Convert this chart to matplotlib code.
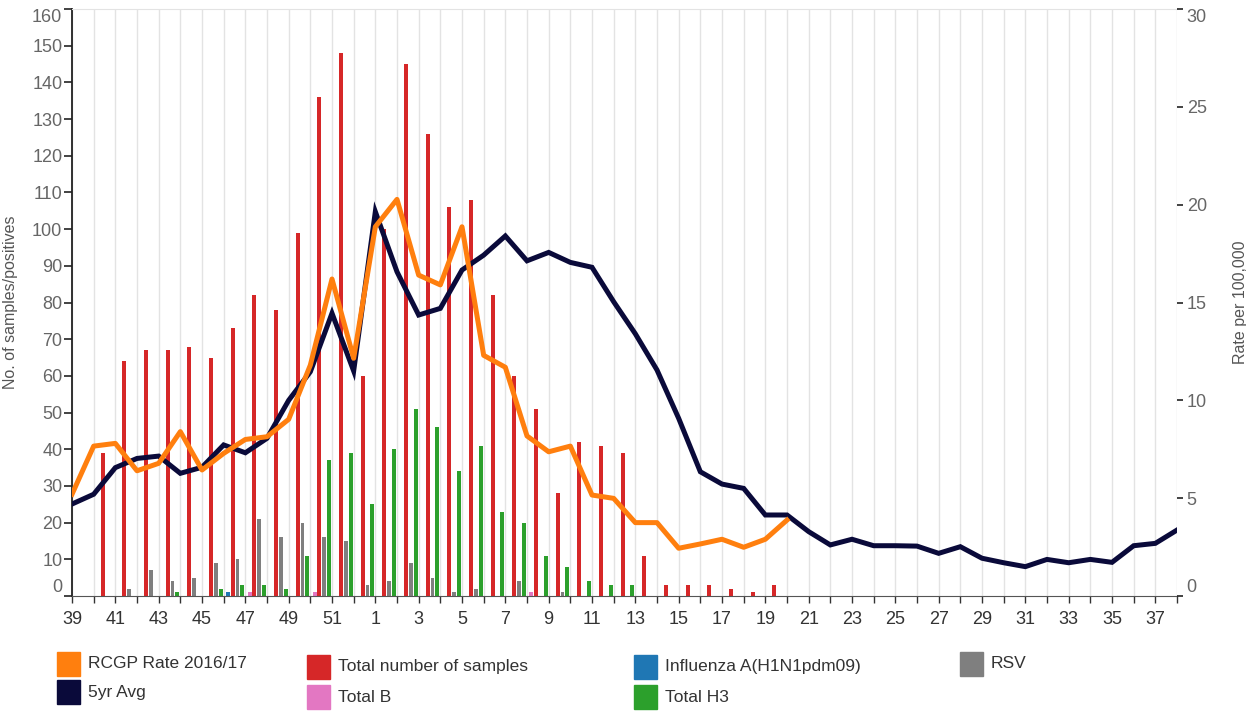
import matplotlib.pyplot as plt
import numpy as np
from matplotlib import font_manager
from matplotlib.patches import Rectangle

# flu surveillance chart: weekly samples (bars, left axis) and rates (lines, right axis)

weeks = list(range(39, 53)) + list(range(1, 39))

total_samples = [0, 39, 64, 67, 67, 68, 65, 73, 82, 78, 99, 136, 148, 60,
                 100, 145, 126, 106, 108, 82, 60, 51, 28, 42, 41, 39, 11, 3, 3, 3, 2, 1, 3,
                 0, 0, 0, 0, 0, 0, 0, 0, 0, 0, 0, 0, 0, 0, 0, 0, 0, 0, 0]
total_b = [0, 0, 0, 0, 0, 0, 0, 0, 1, 0, 0, 1, 0, 0,
           0, 0, 0, 0, 0, 0, 0, 1, 0, 0, 0, 0, 0, 0, 0, 0, 0, 0, 0,
           0, 0, 0, 0, 0, 0, 0, 0, 0, 0, 0, 0, 0, 0, 0, 0, 0, 0, 0]
h1n1 = [0, 0, 0, 0, 0, 0, 0, 1, 0, 0, 0, 0, 0, 0,
        0, 0, 0, 0, 0, 0, 0, 0, 0, 0, 0, 0, 0, 0, 0, 0, 0, 0, 0,
        0, 0, 0, 0, 0, 0, 0, 0, 0, 0, 0, 0, 0, 0, 0, 0, 0, 0, 0]
total_h3 = [0, 0, 0, 0, 1, 0, 2, 3, 3, 2, 11, 37, 39, 25,
            40, 51, 46, 34, 41, 23, 20, 11, 8, 4, 3, 3, 0, 0, 0, 0, 0, 0, 0,
            0, 0, 0, 0, 0, 0, 0, 0, 0, 0, 0, 0, 0, 0, 0, 0, 0, 0, 0]
rsv = [0, 0, 2, 7, 4, 5, 9, 10, 21, 16, 20, 16, 15, 3,
       4, 9, 5, 1, 2, 0, 4, 0, 1, 0, 0, 0, 0, 0, 0, 0, 0, 0, 0,
       0, 0, 0, 0, 0, 0, 0, 0, 0, 0, 0, 0, 0, 0, 0, 0, 0, 0, 0]

# RCGP rate only reported up to week 20
rcgp_rate = [5.2, 7.66, 7.8, 6.4, 6.78, 8.4, 6.44, 7.29, 8.0, 8.14, 9.03, 11.8, 16.2, 12.15,
             18.87, 20.27, 16.4, 15.9, 18.87, 12.3, 11.69, 8.18, 7.37, 7.66, 5.16, 4.99,
             3.75, 3.75, 2.44, 2.66, 2.9, 2.49, 2.9, 3.88]
avg_5yr = [4.7, 5.2, 6.56, 7.03, 7.15, 6.27, 6.58, 7.72, 7.32, 8.06, 10.0, 11.46, 14.45, 11.5,
           19.64, 16.57, 14.36, 14.7, 16.66, 17.42, 18.4, 17.13, 17.56, 17.05, 16.8, 15.04,
           13.4, 11.55, 9.08, 6.35, 5.72, 5.5, 4.14, 4.14, 3.29, 2.61, 2.9, 2.57, 2.57, 2.55,
           2.18, 2.52, 1.93, 1.7, 1.5, 1.87, 1.7, 1.87, 1.72, 2.57, 2.69, 3.37]

names = {f.name for f in font_manager.fontManager.ttflist}
main_font = 'Liberation Sans' if 'Liberation Sans' in names else 'DejaVu Sans'
legend_font = 'Liberation Sans Narrow' if 'Liberation Sans Narrow' in names else main_font
plt.rcParams['font.family'] = main_font

W, H = 1246, 711
fig = plt.figure(figsize=(W / 100, H / 100), dpi=100)
ax = fig.add_axes([72 / W, 1 - 596 / H, (1177 - 72) / W, (596 - 9) / H])

x = np.arange(len(weeks))
bw = 0.18
ax.bar(x + 0.2, total_b, width=bw, color='#e377c2')
ax.bar(x + 0.2, h1n1, width=bw, color='#1f77b4')
ax.bar(x + 0.42, total_samples, width=bw, color='#d62728')
ax.bar(x + 0.64, rsv, width=bw, color='#7f7f7f')
ax.bar(x + 0.86, total_h3, width=bw, color='#2ca02c')

ax.set_xlim(0, len(weeks) - 1)
ax.set_ylim(0, 160)
ax.set_yticks(range(0, 161, 10))
ax.set_xticks(x)
ax.set_xticklabels([str(w) if i % 2 == 0 else '' for i, w in enumerate(weeks)])
ax.set_axisbelow(True)
ax.grid(axis='x', color='#e3e3e3', lw=1)

grey = '#666666'
ax.tick_params(axis='y', length=6, width=1.2, pad=1, labelsize=13, labelcolor=grey, color='#222222')
ax.tick_params(axis='x', length=5, width=1, pad=6, labelsize=13, labelcolor='#333333', color='#333333')
ylab = ax.get_yticklabels()
ylab[0].set_va('bottom')
ylab[-1].set_va('top')

ax.spines['left'].set_color('#222222')
ax.spines['left'].set_linewidth(1.3)
ax.spines['bottom'].set_color('#555555')
ax.spines['top'].set_color('#e3e3e3')
ax.spines['right'].set_visible(False)
ax.set_ylabel('No. of samples/positives', fontsize=11.5, color='#555555')
ax.yaxis.set_label_coords(-0.049, 0.5)

ax2 = ax.twinx()
ax2.plot(x, avg_5yr, color='#0a0a3a', lw=3.6, solid_joinstyle='miter', zorder=3)
ax2.plot(x[:len(rcgp_rate)], rcgp_rate, color='#ff7f0e', lw=3.6, zorder=4)
ax2.set_ylim(0, 30)
ax2.set_yticks(range(0, 31, 5))
ax2.tick_params(axis='y', length=4, width=1.2, pad=3, labelsize=13, labelcolor=grey, color='#222222')
rlab = ax2.get_yticklabels()
rlab[0].set_va('bottom')
rlab[-1].set_va('top')
for s in ax2.spines.values():
    s.set_visible(False)
ax2.set_ylabel('Rate per 100,000', fontsize=11.5, color='#555555')
ax2.yaxis.set_label_coords(1.0507, 0.5)

# legend drawn by hand, four columns under the plot
legend_items = [
    ('RCGP Rate 2016/17', '#ff7f0e', 57, 652),
    ('5yr Avg', '#0a0a3a', 57, 680),
    ('Total number of samples', '#d62728', 307, 655),
    ('Total B', '#e377c2', 307, 685),
    ('Influenza A(H1N1pdm09)', '#1f77b4', 634, 655),
    ('Total H3', '#2ca02c', 634, 685),
    ('RSV', '#7f7f7f', 960, 652),
]
for label, col, px, py in legend_items:
    fig.add_artist(Rectangle((px / W, 1 - (py + 24) / H), 23 / W, 24 / H,
                             transform=fig.transFigure, color=col))
    fig.text((px + 31) / W, 1 - (py + 12) / H, label, fontsize=12.5,
             family=legend_font, color='#333333', va='center')

fig.savefig('out.png', dpi=100)
